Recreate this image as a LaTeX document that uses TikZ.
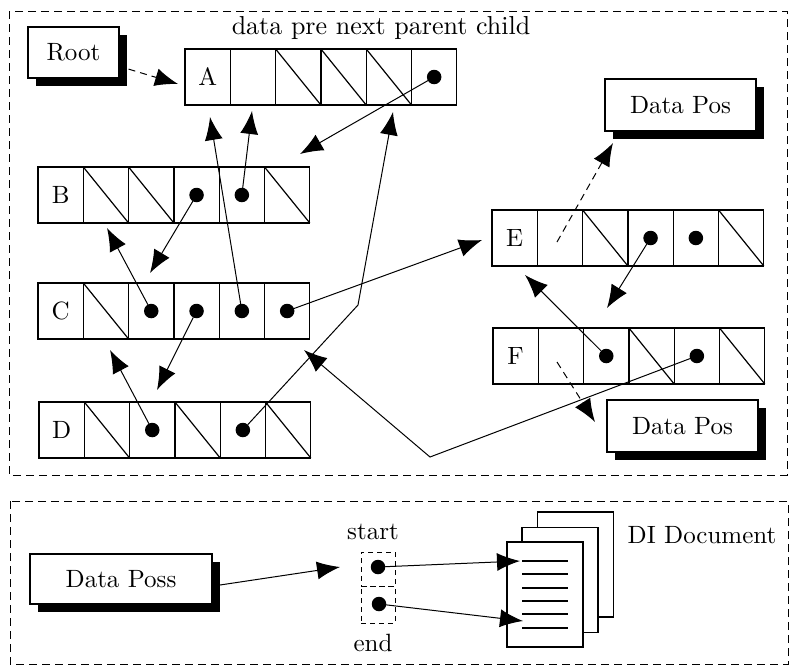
\documentclass[tikz,border=0pt]{standalone}
\usepackage{tikz}
\usetikzlibrary{arrows.meta}
\usetikzlibrary{shadows}
\newcommand\lbl[1]{\scalebox{2.5}{#1}}
\tikzset{
  cellbox/.style={draw=black, fill=white, line width=1.2pt, inner sep=0pt, outer sep=0pt, minimum width=45.3pt, minimum height=56pt},
  dotnode/.style={circle, fill=black, inner sep=0pt, outer sep=0pt, minimum size=14.5pt},
  ptr/.style={-{Latex[length=23pt,width=18pt]}, line width=1pt},
  dashptr/.style={ptr, dash pattern=on 7pt off 5pt},
  framebox/.style={line width=1pt, dash pattern=on 8pt off 5pt},
  shadowbox/.style={draw=black, fill=white, line width=1.2pt, inner sep=0pt, outer sep=0pt, drop shadow={shadow xshift=8pt, shadow yshift=-8pt, fill=black, opacity=1}},
  slotbox/.style={draw=black, line width=1pt, dash pattern=on 5pt off 4pt, inner sep=0pt, minimum width=34pt},
  pagebox/.style={draw=black, fill=white, line width=1.2pt, inner sep=0pt, minimum width=76pt, minimum height=105pt},
}
\begin{document}
\begin{tikzpicture}[x=1pt,y=-1pt]

      \useasboundingbox (0,0) rectangle (794,667);

      \newcommand\recordrow[5]{
        \foreach \c in {1,...,6} {
          \node[cellbox] (#1\c) at ({#2+(\c-0.5)*45.3},{#3+28}) {};
        }
        \node (#1label) at (#11) {\lbl{#1}};
        \foreach \s in {#4} {
          \draw[line width=1.2pt] (#1\s.north west) -- (#1\s.south east);
        }
        \foreach \d in {#5} {
          \node[dotnode] (#1dot\d) at (#1\d) {};
        }
      }

      \draw[framebox] (9,11) rectangle (787,475);
      \draw[framebox] (10,501) rectangle (788,664);

      \node (title) at (381,28) {\scalebox{2.6}{data pre next parent child}};

      \recordrow{A}{185}{49}{3,4,5}{6}
      \recordrow{B}{38}{167}{2,3,6}{4,5}
      \recordrow{C}{38}{283}{2}{3,4,5,6}
      \recordrow{D}{39}{402}{2,4,6}{3,5}
      \recordrow{E}{492}{210}{3,6}{4,5}
      \recordrow{F}{493}{328}{4,6}{3,5}

      \node[shadowbox, minimum width=91pt, minimum height=51pt] (root) at (73.5,52.5) {\lbl{Root}};
      \node[shadowbox, minimum width=151pt, minimum height=52pt] (posE) at (680.5,105) {\lbl{Data Pos}};
      \node[shadowbox, minimum width=151pt, minimum height=52pt] (posF) at (682.5,426) {\lbl{Data Pos}};
      \node[shadowbox, minimum width=182pt, minimum height=50pt] (poss) at (121,579) {\lbl{Data Poss}};

      \coordinate (tipRoot) at (178,84);
      \coordinate (tipA) at (300,154);
      \coordinate (tipB5) at (252,111);
      \coordinate (tipC5) at (210,117);
      \coordinate (tipB4) at (150,273);
      \coordinate (tipC3) at (107,228);
      \coordinate (tipC4) at (157,390);
      \coordinate (tipD3) at (110,350);
      \coordinate (bendD) at (358,305);
      \coordinate (tipD5) at (393,112);
      \coordinate (tipC6) at (482,240);
      \coordinate (startE) at (557,242);
      \coordinate (tipE) at (613,143);
      \coordinate (tipE4) at (607,308);
      \coordinate (tipF3) at (525,275);
      \coordinate (startF) at (557,362);
      \coordinate (tipF) at (595,422);
      \coordinate (bendF) at (430,457);
      \coordinate (tipF5) at (304,350);

      \draw[dashptr, shorten <=10pt] (root) -- (tipRoot);
      \draw[ptr] (Adot6) -- (tipA);
      \draw[ptr] (Bdot5) -- (tipB5);
      \draw[ptr] (Bdot4) -- (tipB4);
      \draw[ptr] (Cdot3) -- (tipC3);
      \draw[ptr] (Cdot4) -- (tipC4);
      \draw[ptr] (Cdot5) -- (tipC5);
      \draw[ptr] (Cdot6) -- (tipC6);
      \draw[ptr] (Ddot3) -- (tipD3);
      \draw[ptr] (Ddot5) -- (bendD) -- (tipD5);
      \draw[dashptr] (startE) -- (tipE);
      \draw[ptr] (Edot4) -- (tipE4);
      \draw[ptr] (Fdot3) -- (tipF3);
      \draw[dashptr] (startF) -- (tipF);
      \draw[ptr] (Fdot5) -- (bendF) -- (tipF5);

      \node[slotbox, minimum height=34pt] (startslot) at (378,569) {};
      \node[slotbox, minimum height=37pt] (endslot) at (378,604.5) {};
      \node[dotnode] (startdot) at (378,567) {};
      \node[dotnode] (enddot) at (379,604) {};
      \node (starttext) at (373,532) {\lbl{start}};
      \node (endtext) at (373,643) {\lbl{end}};

      \node[pagebox] (page3) at (575.5,564.5) {};
      \node[pagebox] (page2) at (560,580) {};
      \node[pagebox] (page1) at (545,594.5) {};
      \foreach \y in {561,574,588,601,614,628} {
        \draw[line width=1.2pt] (522,\y) -- (568,\y);
      }
      \node (ditext) at (702,535) {\lbl{DI Document}};

      \coordinate (tipPoss) at (340,567);
      \coordinate (tipStart) at (520,561);
      \coordinate (tipEnd) at (523,621);
      \draw[ptr] (poss.east) ++(8,6) -- (tipPoss);
      \draw[ptr] (startdot) -- (tipStart);
      \draw[ptr] (enddot) -- (tipEnd);

    \end{tikzpicture}
\end{document}
